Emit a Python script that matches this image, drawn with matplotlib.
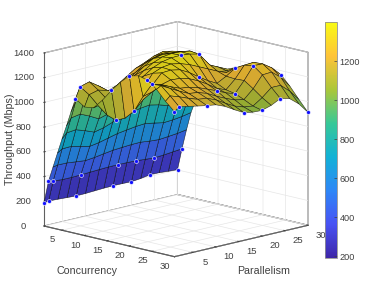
import numpy as np
import matplotlib
matplotlib.use('Agg')
import matplotlib.pyplot as plt
from matplotlib.colors import LinearSegmentedColormap
from matplotlib.transforms import Affine2D
from mpl_toolkits.mplot3d import proj3d

concurrency = [1, 2, 3, 4, 5, 6, 7, 8, 10, 12, 14, 16, 18, 20, 22, 24, 26, 28, 30]
parallelism = [1, 2, 4, 6, 8, 10, 12, 14, 16, 18, 20, 22, 24, 26, 28, 30]
# Surface heights, one row per concurrency value
c01 = [186, 193, 190, 186, 182, 184, 188, 192, 194, 194, 192, 200, 213, 212, 206, 202]
c02 = [372, 364, 358, 358, 361, 365, 369, 372, 373, 372, 370, 364, 359, 364, 372, 380]
c03 = [494, 502, 501, 493, 485, 493, 505, 516, 522, 527, 529, 520, 515, 522, 530, 542]
c04 = [616, 641, 644, 627, 609, 622, 641, 660, 671, 682, 688, 675, 660, 665, 675, 690]
c05 = [738, 779, 787, 762, 733, 750, 778, 804, 820, 838, 847, 831, 807, 790, 785, 795]
c06 = [853, 909, 922, 889, 849, 871, 906, 940, 961, 984, 996, 978, 948, 917, 885, 885]
c07 = [975, 1048, 1065, 1023, 973, 999, 1042, 1084, 1110, 1139, 1155, 1133, 1097, 1058, 1010, 975]
c08 = [1090, 1178, 1200, 1150, 1090, 1120, 1170, 1220, 1250, 1285, 1305, 1280, 1238, 1190, 1120, 1050]
c10 = [1040, 1130, 1150, 1130, 1110, 1160, 1220, 1275, 1305, 1325, 1325, 1300, 1250, 1200, 1140, 1080]
c12 = [1050, 1060, 1090, 1130, 1170, 1235, 1290, 1335, 1350, 1345, 1340, 1325, 1240, 1180, 1145, 1110]
c14 = [1130, 1000, 1050, 1145, 1230, 1290, 1335, 1365, 1375, 1372, 1360, 1310, 1195, 1140, 1130, 1140]
c16 = [1226, 975, 1050, 1180, 1280, 1330, 1360, 1375, 1378, 1370, 1353, 1260, 1150, 1110, 1125, 1160]
c18 = [1310, 1010, 1090, 1215, 1320, 1350, 1360, 1345, 1320, 1285, 1250, 1215, 1185, 1170, 1160, 1175]
c20 = [1377, 1084, 1160, 1260, 1340, 1345, 1330, 1290, 1238, 1190, 1150, 1190, 1240, 1240, 1215, 1190]
c22 = [1395, 1220, 1240, 1280, 1300, 1295, 1275, 1240, 1195, 1145, 1115, 1185, 1280, 1285, 1245, 1190]
c24 = [1377, 1337, 1310, 1280, 1250, 1240, 1220, 1190, 1160, 1125, 1101, 1190, 1292, 1290, 1240, 1167]
c26 = [1320, 1340, 1300, 1260, 1225, 1215, 1190, 1150, 1115, 1085, 1070, 1140, 1235, 1240, 1180, 1090]
c28 = [1240, 1275, 1250, 1220, 1195, 1185, 1155, 1110, 1070, 1045, 1035, 1085, 1150, 1150, 1085, 1000]
c30 = [1173, 1205, 1190, 1175, 1161, 1150, 1120, 1075, 1035, 1020, 1017, 1040, 1078, 1060, 1000, 914]
heights = [c01, c02, c03, c04, c05, c06, c07, c08, c10, c12, c14, c16, c18, c20, c22, c24, c26, c28, c30]

# Sample points visible in the picture, as (concurrency, parallelism)
visible_points = [(1, 1), (1, 2), (1, 8), (1, 16), (1, 20), (1, 24), (1, 30),
                  (2, 1), (2, 2), (2, 8), (2, 16), (2, 20), (2, 24), (2, 30),
                  (8, 1), (8, 2), (16, 1), (16, 2), (20, 1), (20, 2), (24, 1), (24, 2),
                  (30, 1), (30, 2), (30, 8), (30, 16), (30, 20), (30, 24), (30, 30),
                  (16, 16), (16, 20), (20, 16), (24, 16), (24, 20), (20, 24), (24, 24), (24, 30)]

xticks = [5, 10, 15, 20, 25, 30]
yticks = [5, 10, 15, 20, 25, 30]
zticks = [0, 200, 400, 600, 800, 1000, 1200, 1400]
cticks = [200, 400, 600, 800, 1000, 1200]

parula_colors = [
    (0.2422, 0.1504, 0.6603), (0.2810, 0.3228, 0.9579), (0.1786, 0.5289, 0.9682),
    (0.0689, 0.6948, 0.8394), (0.2161, 0.7843, 0.5923), (0.6720, 0.7793, 0.2227),
    (0.9970, 0.7659, 0.2199), (0.9769, 0.9839, 0.0805)]
parula = LinearSegmentedColormap.from_list('parula', parula_colors, N=256)
# The reference's dense mesh darkens the surface; the coarser mesh here needs darker faces
parula_faces = LinearSegmentedColormap.from_list(
    'parula_faces', [tuple(0.86 * v for v in col) for col in parula_colors], N=256)

plt.rcParams['font.family'] = ['Liberation Sans', 'DejaVu Sans']
TXT = '#404040'
W, H = 382, 291
fig = plt.figure(figsize=(W / 100, H / 100), dpi=100)
ax = fig.add_axes([0.05, 0.05, 0.8, 0.9], projection='3d', proj_type='ortho')
ax.view_init(elev=13.6, azim=-45)
ax.set_box_aspect((184.5, 188.8, 178))
ax.set_xlim(1, 30, view_margin=0)
ax.set_ylim(1, 30, view_margin=0)
ax.set_zlim(0, 1400, view_margin=0)
ax.patch.set_alpha(0)

C, P = np.meshgrid(concurrency, parallelism, indexing='ij')
Z = np.array(heights, dtype=float)
surf = ax.plot_surface(C, P, Z, rstride=1, cstride=1, cmap=parula_faces, vmin=190, vmax=1400,
                       edgecolor=(0, 0, 0, 0.75), linewidth=0.4, shade=False, antialiased=True)
pc = np.array([v[0] for v in visible_points])
pp = np.array([v[1] for v in visible_points])
pz = np.array([Z[concurrency.index(a), parallelism.index(b)] for a, b in visible_points])
ax.scatter(pc, pp, pz, s=8, c='#1010ff', edgecolors='white', linewidths=0.4, depthshade=False, zorder=10)
ax.computed_zorder = False
surf.set_zorder(2)

for axis in (ax.xaxis, ax.yaxis, ax.zaxis):
    axis.set_pane_color((1, 1, 1, 1))
    axis.pane.set_edgecolor('#606060')
    axis.pane.set_linewidth(0.8)
    axis.line.set_color('#606060')
    axis.line.set_linewidth(0.8)
    axis._axinfo['grid']['color'] = '#e6e6e6'
    axis._axinfo['grid']['linewidth'] = 0.5
    axis._axinfo['tick']['inward_factor'] = 0.0
    axis._axinfo['tick']['outward_factor'] = 0.1
ax.set_xticks(xticks)
ax.set_yticks(yticks)
ax.set_zticks(zticks)
ax.tick_params(labelsize=6.8, colors=TXT, width=0.5, length=2)
ax.tick_params(axis='x', pad=0)
ax.tick_params(axis='y', pad=3)
ax.tick_params(axis='z', pad=1)
ax.zaxis.set_ticks_position('lower')
ax.zaxis.set_label_position('lower')
ax.xaxis.set_rotate_label(False)
ax.yaxis.set_rotate_label(False)
ax.zaxis.set_rotate_label(False)
ax.xaxis._axinfo['label']['va'] = 'bottom'
ax.yaxis._axinfo['label']['va'] = 'bottom'
ax.set_xlabel('Concurrency', fontsize=7.7, color=TXT, labelpad=-1.5)
ax.set_ylabel('Parallelism', fontsize=7.7, color=TXT, labelpad=-1)
ax.set_zlabel('Throughput (Mbps)', fontsize=7.7, color=TXT, rotation=90, labelpad=-6)

# fit the axes box onto the reference corners (pixels from the top left)
target_left, target_right, target_bottom = 44, 308, 226
for _ in range(4):
    fig.canvas.draw()
    M = ax.get_proj()
    def px(a, b, c):
        x, y, _z = proj3d.proj_transform(a, b, c, M)
        u, v = ax.transData.transform((x, y))
        return u, H - v
    lu, lv = px(1, 1, 0)
    ru, rv = px(30, 30, 0)
    s = (target_right - target_left) / (ru - lu)
    pos = ax.get_position(original=True)
    ww, hh = pos.width * s, pos.height * s
    cu = (pos.x0 + pos.width / 2) * W
    cv = (1 - (pos.y0 + pos.height / 2)) * H
    nu = target_left + (cu - lu) * s
    nv = target_bottom + (cv - lv) * s
    ax.set_position([nu / W - ww / 2, 1 - nv / H - hh / 2, ww, hh])

# Axis3D resets tick transforms whenever it fetches its ticks, so the shift goes in there
_y_ticks = ax.yaxis.get_major_ticks
def shifted_y_ticks(numticks=None):
    ticks = _y_ticks(numticks)
    for t in ticks:
        t.label1.set_transform(ax.transData + Affine2D().translate(0, 5))
    return ticks
ax.yaxis.get_major_ticks = shifted_y_ticks

for t in ax.xaxis.get_major_ticks():
    t.label1.set_va('bottom')
for t in ax.yaxis.get_major_ticks():
    t.label1.set_va('bottom')
for t in ax.zaxis.get_major_ticks():
    t.label1.set_va('center')

cax = fig.add_axes([324.5 / W, 1 - 258 / H, 12.5 / W, 236 / H])
sm = plt.cm.ScalarMappable(cmap=parula, norm=plt.Normalize(190, 1400))
cb = fig.colorbar(sm, cax=cax, ticks=cticks)
cb.outline.set_edgecolor('#909090')
cb.outline.set_linewidth(0.6)
cax.tick_params(labelsize=6.6, colors=TXT, direction='in', width=0.5, length=2, pad=2)
fig.savefig('out.png', dpi=100)
